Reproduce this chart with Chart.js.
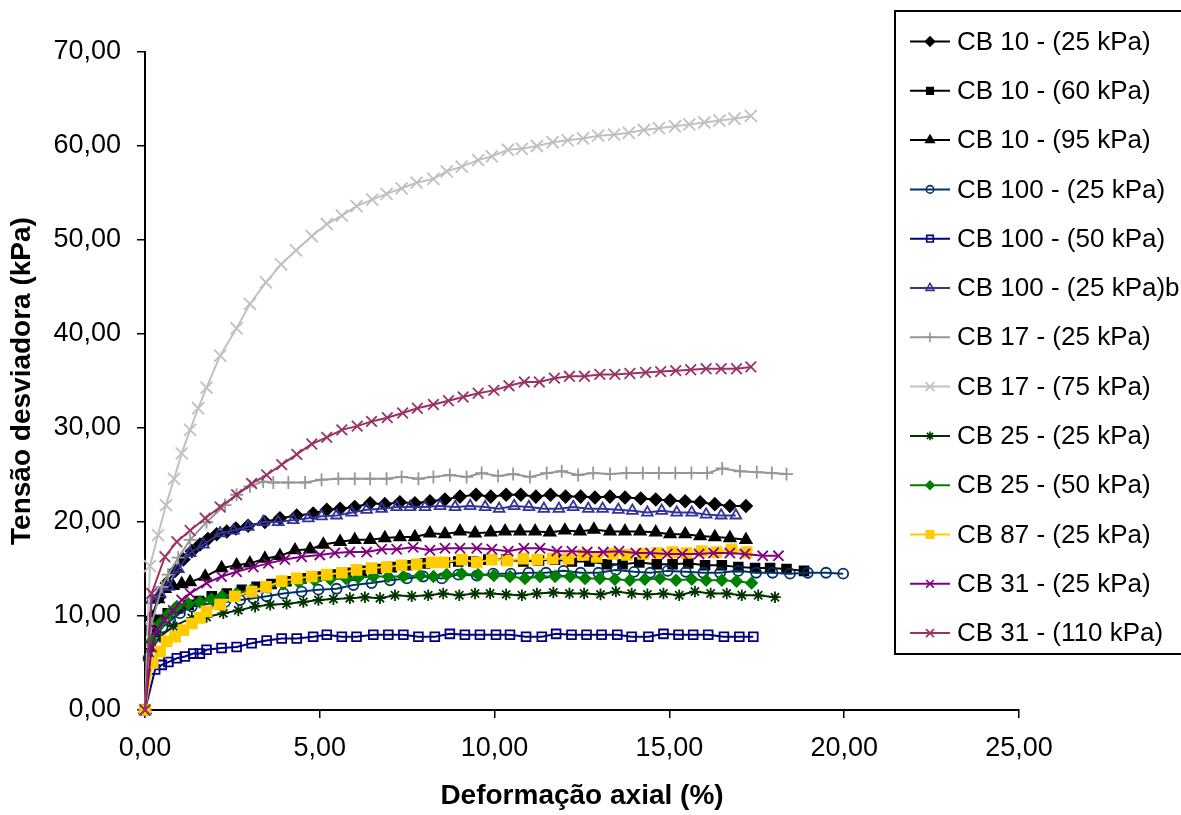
<!DOCTYPE html>
<html>
<head>
<meta charset="utf-8">
<script src="https://cdn.jsdelivr.net/npm/chart.js@4.4.1/dist/chart.umd.min.js"></script>
<style>
  html, body { margin: 0; padding: 0; background: #fff; }
  #wrap { width: 1181px; height: 815px; }
</style>
</head>
<body>
<div id="wrap"><canvas id="c"></canvas></div>
<script>
// Tensão desviadora x deformação axial — 13 ensaios triaxiais (Excel scatter look).

var seriesNames = [
  'CB 10 - (25 kPa)', 'CB 10 - (60 kPa)', 'CB 10 - (95 kPa)',
  'CB 100 - (25 kPa)', 'CB 100 - (50 kPa)', 'CB 100 - (25 kPa)b',
  'CB 17 - (25 kPa)', 'CB 17 - (75 kPa)', 'CB 25 - (25 kPa)',
  'CB 25 - (50 kPa)', 'CB 87 - (25 kPa)', 'CB 31 - (25 kPa)', 'CB 31 - (110 kPa)'
];

var xTicks = [0, 5, 10, 15, 20, 25];
var yTicks = [0, 10, 20, 30, 40, 50, 60, 70];

// CB 10 - (25 kPa)
var cb10_25_x = [0,0.19,0.4,0.62,0.86,1.1,1.34,1.57,1.8,2.05,2.34,2.6,2.95,3.43,3.86,4.34,4.81,5.2,5.58,6.0,6.44,6.86,7.29,7.72,8.15,8.58,9.01,9.47,9.89,10.33,10.75,11.18,11.6,12.03,12.46,12.87,13.3,13.73,14.18,14.61,15.02,15.45,15.88,16.3,16.73,17.19];
var cb10_25_y = [0,9.8,12.0,13.5,14.8,16.0,16.9,17.6,18.2,18.7,19.0,19.3,19.6,20.0,20.4,20.7,20.9,21.3,21.4,21.6,22.0,21.9,22.1,22.0,22.2,22.4,22.7,22.9,22.7,22.9,22.9,22.7,22.9,22.7,22.7,22.6,22.7,22.6,22.5,22.4,22.3,22.2,22.1,21.9,21.7,21.7];
// CB 10 - (60 kPa)
var cb10_60_x = [0,0.19,0.4,0.65,0.95,1.25,1.55,1.91,2.34,2.77,3.19,3.62,4.05,4.48,4.91,5.34,5.77,6.2,6.63,7.06,7.5,8.01,8.58,8.96,9.39,9.82,10.33,10.82,11.27,11.73,12.21,12.71,13.21,13.66,14.14,14.64,15.09,15.54,16.02,16.5,16.97,17.45,17.88,18.35,18.85];
var cb10_60_y = [0,8.5,9.6,10.3,10.8,11.2,11.6,12.1,12.4,12.8,13.1,13.4,13.7,14.0,14.2,14.4,14.6,14.8,15.0,15.2,15.4,15.6,15.7,15.8,15.8,16.0,16.0,15.8,15.9,16.0,15.8,15.8,15.5,15.5,15.7,15.5,15.5,15.6,15.4,15.4,15.2,15.1,15.1,15.0,14.8];
// CB 10 - (95 kPa)
var cb10_95_x = [0,0.19,0.38,0.57,0.8,1.05,1.29,1.72,2.19,2.62,3.0,3.43,3.86,4.29,4.72,5.1,5.58,6.0,6.44,6.86,7.29,7.72,8.15,8.58,9.01,9.44,9.89,10.3,10.73,11.16,11.58,12.01,12.44,12.84,13.3,13.73,14.16,14.61,15.02,15.45,15.88,16.3,16.73,17.19];
var cb10_95_y = [0,9.9,11.8,12.9,13.2,13.4,13.6,14.2,15.1,15.4,15.6,16.1,16.4,17.0,17.1,17.6,17.9,18.1,18.1,18.3,18.4,18.4,18.8,18.7,19.0,18.8,18.9,19.0,19.0,19.0,18.9,19.1,19.0,19.2,19.0,19.0,19.0,18.9,18.7,18.7,18.5,18.4,18.3,18.1];
// CB 100 - (25 kPa)
var cb100_25_x = [0,0.1,0.3,0.5,0.72,1.0,1.34,1.81,2.29,2.72,3.1,3.48,3.96,4.48,4.96,5.48,5.96,6.48,7.01,7.49,7.96,8.49,8.96,9.49,9.96,10.46,10.97,11.47,11.97,12.46,12.97,13.47,13.99,14.45,14.95,15.47,15.97,16.45,16.97,17.48,17.95,18.45,18.96,19.48,19.97];
var cb100_25_y = [0,5.5,7.8,8.8,9.5,10.3,11.0,11.3,11.5,11.7,11.9,12.1,12.4,12.6,12.8,12.9,13.3,13.5,13.8,14.0,14.2,14.0,14.4,14.3,14.5,14.5,14.6,14.6,14.8,14.6,14.6,14.9,14.7,14.6,14.8,14.7,14.6,14.6,14.8,14.6,14.6,14.5,14.6,14.6,14.5];
// CB 100 - (50 kPa)
var cb100_50_x = [0,0.29,0.48,0.67,0.91,1.14,1.38,1.57,1.76,2.19,2.62,3.05,3.48,3.91,4.34,4.81,5.2,5.63,6.05,6.53,6.96,7.39,7.82,8.29,8.72,9.15,9.58,10.04,10.44,10.9,11.35,11.76,12.2,12.63,13.06,13.51,13.92,14.4,14.83,15.26,15.68,16.11,16.56,17.0,17.4];
var cb100_50_y = [0,4.3,4.8,5.1,5.5,5.7,6.0,6.0,6.4,6.6,6.7,7.1,7.4,7.6,7.6,7.8,8.0,7.8,7.8,8.0,8.0,8.0,7.8,7.8,8.1,8.0,8.0,8.0,8.0,7.8,7.8,8.1,8.0,8.0,8.0,8.0,7.8,7.8,8.1,8.0,8.0,8.0,7.8,7.8,7.8];
// CB 100 - (25 kPa)b
var cb100_25b_x = [0,0.19,0.43,0.67,0.95,1.29,1.67,2.15,2.53,2.95,3.38,3.81,4.24,4.67,5.05,5.48,5.91,6.34,6.77,7.2,7.58,8.01,8.44,8.87,9.3,9.73,10.13,10.56,10.98,11.41,11.84,12.25,12.68,13.09,13.54,13.94,14.37,14.78,15.21,15.64,16.05,16.48,16.9];
var cb100_25b_y = [0,11.7,12.4,13.1,15.0,16.7,17.6,18.8,19.1,19.5,20.0,20.0,20.2,20.4,20.6,20.7,21.0,21.3,21.4,21.6,21.6,21.6,21.7,21.6,21.7,21.6,21.4,21.7,21.6,21.4,21.4,21.6,21.4,21.4,21.3,21.2,21.0,21.2,21.0,21.0,20.8,20.7,20.7];
// CB 17 - (25 kPa)
var cb17_25_x = [0,0.19,0.48,0.66,0.95,1.29,1.76,2.29,2.62,3.0,3.38,3.67,4.1,4.58,5.05,5.53,6.0,6.44,6.91,7.34,7.82,8.25,8.72,9.2,9.63,10.1,10.53,11.01,11.49,11.92,12.39,12.82,13.3,13.77,14.24,14.7,15.17,15.63,16.08,16.51,17.02,17.5,17.93,18.35];
var cb17_25_y = [0,9.2,13.1,14.4,16.2,18.1,20.0,21.8,22.9,23.8,24.3,24.2,24.2,24.2,24.5,24.6,24.6,24.6,24.6,24.8,24.6,24.8,25.0,24.8,25.2,24.9,25.1,24.8,25.2,25.4,25.0,25.2,25.1,25.2,25.2,25.2,25.2,25.2,25.2,25.7,25.4,25.3,25.2,25.1];
// CB 17 - (75 kPa)
var cb17_75_x = [0,0.14,0.37,0.6,0.83,1.05,1.29,1.52,1.76,2.15,2.62,3.0,3.46,3.89,4.32,4.77,5.2,5.63,6.05,6.5,6.91,7.34,7.77,8.25,8.63,9.06,9.53,9.92,10.38,10.78,11.21,11.66,12.09,12.53,12.96,13.42,13.84,14.27,14.7,15.16,15.57,16.0,16.43,16.86,17.33];
var cb17_75_y = [0,15.3,18.6,21.8,24.6,27.3,29.8,32.1,34.3,37.7,40.6,43.2,45.5,47.4,48.9,50.4,51.7,52.6,53.6,54.3,54.9,55.5,56.1,56.5,57.3,57.8,58.5,58.9,59.6,59.7,60.0,60.4,60.6,60.8,61.1,61.2,61.4,61.7,61.9,62.1,62.3,62.5,62.7,62.9,63.2];
// CB 25 - (25 kPa)
var cb25_25_x = [0,0.19,0.43,0.81,1.34,1.76,2.24,2.67,3.15,3.58,4.05,4.53,4.96,5.39,5.86,6.29,6.72,7.15,7.63,8.1,8.53,8.99,9.44,9.87,10.33,10.78,11.21,11.68,12.14,12.56,13.03,13.47,13.92,14.37,14.83,15.28,15.73,16.18,16.64,17.07,17.54,18.02];
var cb25_25_y = [0,6.5,7.8,8.9,9.8,9.9,10.3,10.6,11.0,11.2,11.3,11.5,11.7,11.8,11.9,12.0,11.9,12.2,12.1,12.2,12.4,12.2,12.4,12.4,12.3,12.2,12.4,12.5,12.4,12.4,12.3,12.6,12.4,12.3,12.4,12.2,12.6,12.4,12.4,12.2,12.2,12.0];
// CB 25 - (50 kPa)
var cb25_50_x = [0,0.19,0.43,0.67,0.91,1.24,1.57,1.9,2.2,2.62,3.05,3.5,3.95,4.4,4.85,5.3,5.75,6.1,6.53,6.96,7.39,7.87,8.25,8.63,9.06,9.53,9.98,10.44,10.87,11.3,11.73,12.16,12.59,13.01,13.44,13.87,14.3,14.73,15.19,15.64,16.05,16.5,16.92,17.35];
var cb25_50_y = [0,7.3,9.2,10.2,11.0,11.3,11.5,11.8,12.1,12.4,12.8,13.1,13.4,13.6,13.8,13.9,14.0,14.1,14.2,14.2,14.2,14.3,14.2,14.4,14.5,14.4,14.3,14.2,14.0,14.2,14.2,14.2,14.0,14.0,13.9,13.8,13.9,14.0,13.8,13.9,13.8,13.8,13.7,13.5];
// CB 87 - (25 kPa)
var cb87_25_x = [0,0.22,0.43,0.62,0.86,1.1,1.34,1.57,1.76,2.15,2.57,3.05,3.46,3.91,4.34,4.77,5.2,5.63,6.05,6.48,6.91,7.34,7.77,8.2,8.53,9.06,9.49,9.92,10.36,10.82,11.22,11.66,12.11,12.54,12.92,13.38,13.78,14.25,14.66,15.09,15.49,15.92,16.35,16.78,17.21];
var cb87_25_y = [0,5.0,6.2,7.3,7.8,8.5,9.2,9.8,10.5,11.2,12.1,12.6,13.1,13.7,14.0,14.2,14.4,14.6,14.9,15.1,15.2,15.4,15.5,15.7,15.7,16.0,15.7,16.0,15.9,16.1,16.0,16.1,16.1,16.5,16.3,16.6,16.5,16.6,16.7,16.8,16.7,16.9,16.8,17.1,16.8];
// CB 31 - (25 kPa)
var cb31_25_x = [0,0.19,0.33,0.57,0.81,1.05,1.29,1.76,2.19,2.62,3.1,3.53,4.0,4.48,5.0,5.43,5.86,6.34,6.77,7.2,7.67,8.15,8.58,9.01,9.49,9.92,10.39,10.84,11.3,11.78,12.21,12.65,13.11,13.56,14.04,14.46,14.94,15.37,15.85,16.26,16.73,17.16,17.67,18.12];
var cb31_25_y = [0,6.7,8.5,9.6,10.6,11.7,12.4,13.5,14.2,14.7,15.2,15.6,16.0,16.3,16.5,16.7,16.8,16.8,17.1,17.1,17.3,17.0,17.2,17.2,17.2,17.1,16.9,17.2,17.2,16.9,16.9,16.8,16.8,16.9,16.7,16.7,16.6,16.6,16.6,16.7,16.7,16.6,16.4,16.4];
// CB 31 - (110 kPa)
var cb31_110_x = [0,0.19,0.57,0.91,1.29,1.72,2.15,2.62,3.05,3.48,3.91,4.34,4.77,5.2,5.63,6.07,6.48,6.93,7.37,7.79,8.25,8.68,9.1,9.53,9.98,10.41,10.85,11.28,11.71,12.14,12.57,13.01,13.44,13.87,14.32,14.75,15.18,15.61,16.05,16.48,16.92,17.33];
var cb31_110_y = [0,12.4,16.3,17.9,19.1,20.4,21.6,22.9,24.1,25.0,26.1,27.2,28.3,29.0,29.8,30.2,30.7,31.1,31.6,32.1,32.5,32.9,33.3,33.7,34.0,34.5,34.9,34.9,35.3,35.5,35.5,35.7,35.7,35.8,35.9,36.0,36.1,36.2,36.3,36.3,36.3,36.5];

var seriesX = [cb10_25_x, cb10_60_x, cb10_95_x, cb100_25_x, cb100_50_x, cb100_25b_x, cb17_25_x, cb17_75_x, cb25_25_x, cb25_50_x, cb87_25_x, cb31_25_x, cb31_110_x];
var seriesY = [cb10_25_y, cb10_60_y, cb10_95_y, cb100_25_y, cb100_50_y, cb100_25b_y, cb17_25_y, cb17_75_y, cb25_25_y, cb25_50_y, cb87_25_y, cb31_25_y, cb31_110_y];

// styles (Excel-ish palette)
var lineColors = ['#000000', '#000000', '#000000', '#003366', '#000080', '#333399', '#969696', '#C0C0C0', '#003300', '#008000', '#FFCC00', '#800080', '#993366'];
var markers    = ['rectRot', 'rect', 'triangle', 'circle', 'rect', 'triangle', 'cross', 'crossRot', 'star', 'rectRot', 'rect', 'crossRot', 'crossRot'];
var markerSize = [6, 6.2, 6.5, 5, 6.2, 6.2, 6.5, 8.5, 5.8, 5.5, 7, 7.2, 7.5];
var markerFill = [true, true, true, false, false, false, false, false, false, true, true, false, false];

var FONT = '"Liberation Sans", Arial, Helvetica, sans-serif';
Chart.defaults.font.family = FONT;
Chart.defaults.color = '#000';

function fmt(v) { return v.toFixed(2).replace('.', ','); }

var datasets = seriesNames.map(function (name, i) {
  var xs = seriesX[i], ys = seriesY[i];
  var pts = [];
  for (var k = 0; k < Math.min(xs.length, ys.length); k++) pts.push({ x: xs[k], y: ys[k] });
  if (xs.length !== ys.length) console.warn('length mismatch', name, xs.length, ys.length);
  return {
    label: name,
    data: pts,
    showLine: true,
    borderColor: lineColors[i],
    borderWidth: 2,
    tension: 0,
    pointStyle: markers[i],
    pointRadius: markerSize[i],
    pointHoverRadius: markerSize[i],
    pointBorderColor: lineColors[i],
    pointBackgroundColor: markerFill[i] ? lineColors[i] : 'rgba(0,0,0,0)',
    pointBorderWidth: 1.8,
    clip: false,
    order: seriesNames.length - i
  };
});

// boxed legend on the right, drawn over the canvas like Excel's
var legendBox = {
  id: 'legendBox',
  afterDraw: function (chart) {
    var ctx = chart.ctx;
    var left = 895, top = 11, w = 300, h = 643;
    ctx.save();
    ctx.fillStyle = '#fff';
    ctx.fillRect(left, top, w, h);
    ctx.strokeStyle = '#000';
    ctx.lineWidth = 2;
    ctx.strokeRect(left, top, w, h);
    chart.data.datasets.forEach(function (ds, i) {
      var y = 41.5 + i * 49.3;
      ctx.strokeStyle = ds.borderColor;
      ctx.lineWidth = 2;
      ctx.beginPath(); ctx.moveTo(910, y); ctx.lineTo(950, y); ctx.stroke();
      ctx.fillStyle = ds.pointBackgroundColor;
      ctx.strokeStyle = ds.pointBorderColor;
      ctx.lineWidth = 1.6;
      Chart.helpers.drawPoint(ctx, {
        pointStyle: ds.pointStyle, radius: ds.pointRadius * 0.75,
        rotation: 0, borderWidth: 1.6
      }, 930, y);
      ctx.fillStyle = '#000';
      ctx.font = '26px ' + FONT;
      ctx.textBaseline = 'middle';
      ctx.textAlign = 'left';
      ctx.fillText(ds.label, 957, y + 1);
    });
    ctx.restore();
  }
};

new Chart(document.getElementById('c'), {
  type: 'scatter',
  data: { datasets: datasets },
  plugins: [legendBox],
  options: {
    responsive: true,
    maintainAspectRatio: false,
    animation: false,
    events: [],
    layout: { padding: { left: 0, top: 52, right: 162, bottom: 0 } },
    plugins: { legend: { display: false }, tooltip: { enabled: false } },
    scales: {
      x: {
        type: 'linear',
        min: xTicks[0], max: xTicks[xTicks.length - 1],
        afterBuildTicks: function (s) { s.ticks = xTicks.map(function (v) { return { value: v }; }); },
        afterFit: function (s) { s.height = 105; },
        ticks: { font: { size: 27 }, color: '#000', padding: 14, maxRotation: 0, callback: function (v) { return fmt(v); } },
        grid: { drawOnChartArea: false, drawTicks: true, tickLength: 8, color: '#000', lineWidth: 1.5 },
        border: { display: true, color: '#000', width: 2 },
        title: { display: true, text: 'Deformação axial (%)', font: { size: 28, weight: 'bold' }, color: '#000', padding: { top: 0, bottom: 2 } }
      },
      y: {
        type: 'linear',
        min: yTicks[0], max: yTicks[yTicks.length - 1],
        afterBuildTicks: function (s) { s.ticks = yTicks.map(function (v) { return { value: v }; }); },
        afterFit: function (s) { s.width = 145; },
        ticks: { font: { size: 27 }, color: '#000', padding: 16, callback: function (v) { return fmt(v); } },
        grid: { drawOnChartArea: false, drawTicks: true, tickLength: 8, color: '#000', lineWidth: 1.5 },
        border: { display: true, color: '#000', width: 2 },
        title: { display: true, text: 'Tensão desviadora (kPa)', font: { size: 28, weight: 'bold' }, color: '#000', padding: { top: 5, bottom: 0 } }
      }
    }
  }
});
</script>
</body>
</html>
